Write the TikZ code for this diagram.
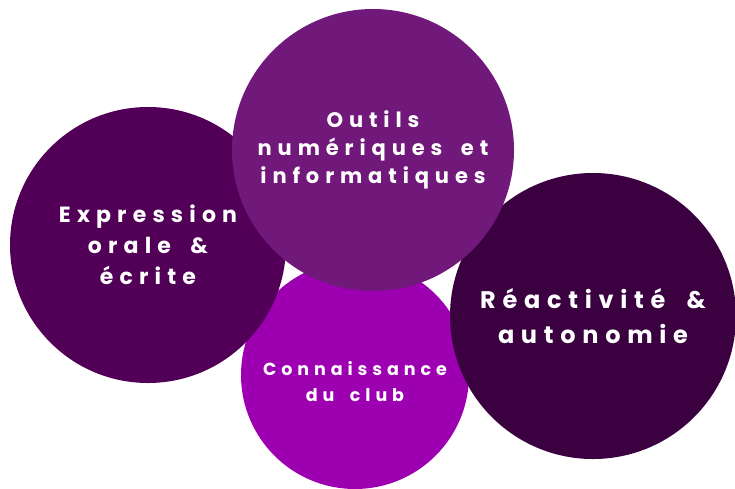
\documentclass[tikz,border=0pt]{standalone}
\usepackage{fontspec}
\newfontfamily\bubblefont[LetterSpace=28,WordSpace=1.8]{Poppins}
\definecolor{exprpurple}{HTML}{520057}
\definecolor{outilspurple}{HTML}{70197A}
\definecolor{clubpurple}{HTML}{9C00B0}
\definecolor{reacpurple}{HTML}{3A0040}
\tikzset{bubble/.style={circle, inner sep=0pt, text=white, align=center, font=\bubblefont\bfseries\fontsize{22}{31}\selectfont}}
\tikzset{smalltext/.style={text=white, align=center, inner sep=0pt, font=\bubblefont\bfseries\fontsize{17.5}{26}\selectfont}}

\begin{document}
\begin{tikzpicture}[x=1pt, y=-1pt]
\useasboundingbox (0,0) rectangle (735,488);
\node[bubble, fill=clubpurple, minimum size=228pt] (club) at (355,375) {};
\node[smalltext, yshift=-7pt] (clubtext) at (club.center) {Connaissance\\du club};
\node[bubble, fill=exprpurple, minimum size=276pt] (expr) at (148,245) {Expression\\orale \&\\écrite};
\node[bubble, fill=reacpurple, minimum size=286pt, font=\bubblefont\bfseries\fontsize{24}{35}\selectfont] (reac) at (593,316) {Réactivité \&\\autonomie};
\node[bubble, fill=outilspurple, minimum size=282pt, font=\bubblefont\bfseries\fontsize{21}{28}\selectfont] (outils) at (373,150) {Outils\\numériques et\\informatiques};
\end{tikzpicture}
\end{document}
